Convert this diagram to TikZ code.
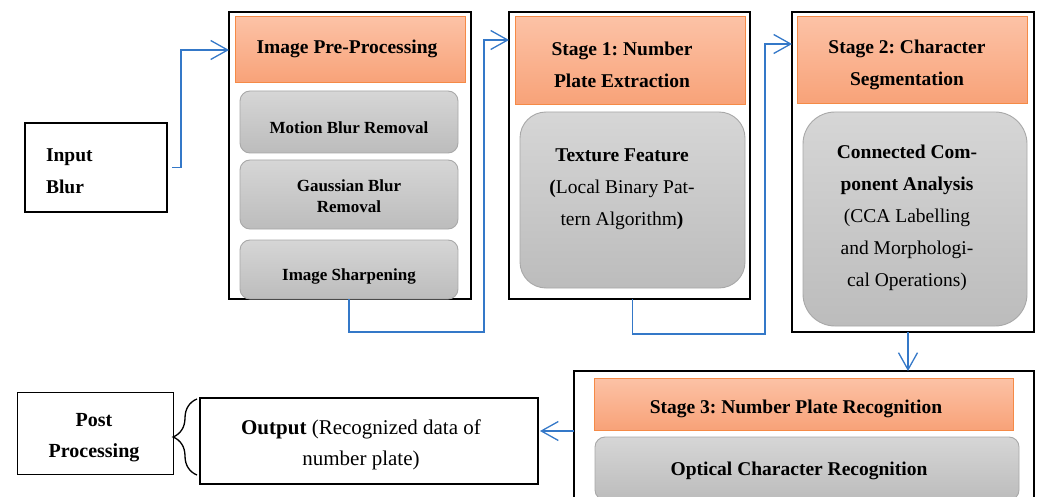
\documentclass[tikz,border=0pt]{standalone}
\usepackage{fontspec}
\setmainfont{Liberation Serif}
\usetikzlibrary{arrows.meta,calc,decorations.pathreplacing}
\definecolor{flowblue}{RGB}{52,120,200}
\definecolor{hdrtop}{RGB}{252,194,166}
\definecolor{hdrbot}{RGB}{248,162,120}
\definecolor{hdrline}{RGB}{245,138,70}
\definecolor{gtop}{RGB}{214,214,214}
\definecolor{gbot}{RGB}{188,188,188}
\definecolor{gline}{RGB}{168,168,168}
\frenchspacing
\begin{document}
\begin{tikzpicture}[x=1pt,y=-1pt,
  every node/.style={inner sep=0pt,outer sep=0pt},
  outerbox/.style={draw=black,line width=2pt,fill=white},
  hdrbox/.style={draw=hdrline,line width=1pt,top color=hdrtop,bottom color=hdrbot},
  graybox/.style={draw=gline,line width=0.9pt,top color=gtop,bottom color=gbot},
  txt/.style={align=center,font=\fontsize{19.5}{32}\selectfont\bfseries},
  smalltxt/.style={align=center,font=\fontsize{17}{21}\selectfont\bfseries},
  flow/.style={draw=flowblue,line width=1.3pt,-{Straight Barb[length=17pt,width=19pt,line width=1.3pt]}},
  bracestyle/.style={decorate,decoration={brace,amplitude=24pt},line width=1.3pt}]
\useasboundingbox (0,0) rectangle (1040,497);
\clip (0,0) rectangle (1040,497);

% Input
\node[outerbox,minimum width=142pt,minimum height=89pt] (inp) at (96,167.5) {};
\node[txt,align=left,anchor=west] (inpt) at (46,171) {Input\\Blur};

% Pre-processing
\node[outerbox,minimum width=242pt,minimum height=287pt] (pre) at (350,155.5) {};
\node[hdrbox,minimum width=230pt,minimum height=66pt] (hdr0) at (350,50) {};
\node[txt] (hdr0t) at (347,49) {Image Pre-Processing};
\node[graybox,rounded corners=10pt,minimum width=218pt,minimum height=62pt] (motion) at (349,122) {};
\node[smalltxt] (motiont) at (349,128) {Motion Blur Removal};
\node[graybox,rounded corners=10pt,minimum width=218pt,minimum height=69pt] (gauss) at (349,194.5) {};
\node[smalltxt] (gausst) at (349,196.5) {Gaussian Blur\\Removal};
\node[graybox,rounded corners=10pt,minimum width=218pt,minimum height=59pt] (sharp) at (349,269.5) {};
\node[smalltxt] (sharpt) at (349,276) {Image Sharpening};

% Stage 1
\node[outerbox,minimum width=241pt,minimum height=287pt] (s1) at (629.5,155.5) {};
\node[hdrbox,minimum width=230pt,minimum height=88pt] (hdr1) at (630,61) {};
\node[txt] (hdr1t) at (622,65) {Stage 1: Number\\Plate Extraction};
\node[graybox,rounded corners=26pt,minimum width=225pt,minimum height=176pt] (gray1) at (632.5,200) {};
\node[txt] (gray1t) at (622,189) {Texture Feature\\\textbf{(}\mdseries Local Binary Pat-\\\mdseries tern Algorithm\bfseries)};

% Stage 2
\node[outerbox,minimum width=242pt,minimum height=320pt] (s2) at (913,172) {};
\node[hdrbox,minimum width=230pt,minimum height=87pt] (hdr2) at (912,60.5) {};
\node[txt] (hdr2t) at (907,65) {Stage 2: Character\\Segmentation};
\node[graybox,rounded corners=32pt,minimum width=224pt,minimum height=214pt] (gray2) at (915,219) {};
\node[txt] (gray2t) at (907,217.5) {Connected Com-\\ponent Analysis\\\mdseries (CCA Labelling\\\mdseries and Morphologi-\\\mdseries cal Operations)};

% Stage 3
\node[minimum width=460pt,minimum height=120pt] (s3) at (804,431) {};
\draw[black,line width=2pt] ([yshift=-20pt]s3.south west) -- (s3.north west) -- (s3.north east) -- ([yshift=-20pt]s3.south east);
\node[hdrbox,minimum width=419pt,minimum height=52pt] (hdr3) at (803.5,404) {};
\node[txt] (hdr3t) at (796,409) {Stage 3: Number Plate Recognition};
\node[graybox,rounded corners=10pt,minimum width=424pt,minimum height=63pt] (ocr) at (807,468.5) {};
\node[txt] (ocrt) at (799,471) {Optical Character Recognition};

% Output and post processing
\node[draw=black,line width=2.5pt,minimum width=338pt,minimum height=86pt] (out) at (369,441) {};
\node[align=center,font=\fontsize{21}{31}\selectfont] (outt) at (361,444.5) {\textbf{Output} (Recognized data of\\number plate)};
\node[draw=black,line width=1pt,minimum width=156pt,minimum height=82pt] (post) at (95,433) {};
\node[align=center,font=\fontsize{20}{31}\selectfont\bfseries] (postt) at (94,437.5) {Post\\Processing};
\draw[bracestyle] ([xshift=-3pt,yshift=9pt]out.south west) -- ([xshift=-3pt,yshift=-1pt]out.north west);

% Connectors
\coordinate (j1) at (484,332);
\coordinate (j2) at (765,334);
\draw[flow] ([xshift=5pt]inp.east) -- ++(9,0) |- (pre.west |- hdr0.west);
\draw[flow] (sharp.south) |- (j1) |- ($(s1.north west)+(0,28)$);
\draw[flow] ([xshift=3pt]s1.south) |- (j2) |- ($(s2.north west)+(0,32)$);
\draw[flow] ([xshift=-5pt]s2.south) -- ([xshift=-5pt]s2.south |- s3.north);
\draw[flow] (s3.west) -- ([xshift=2pt]out.east |- s3.west);
\end{tikzpicture}
\end{document}
